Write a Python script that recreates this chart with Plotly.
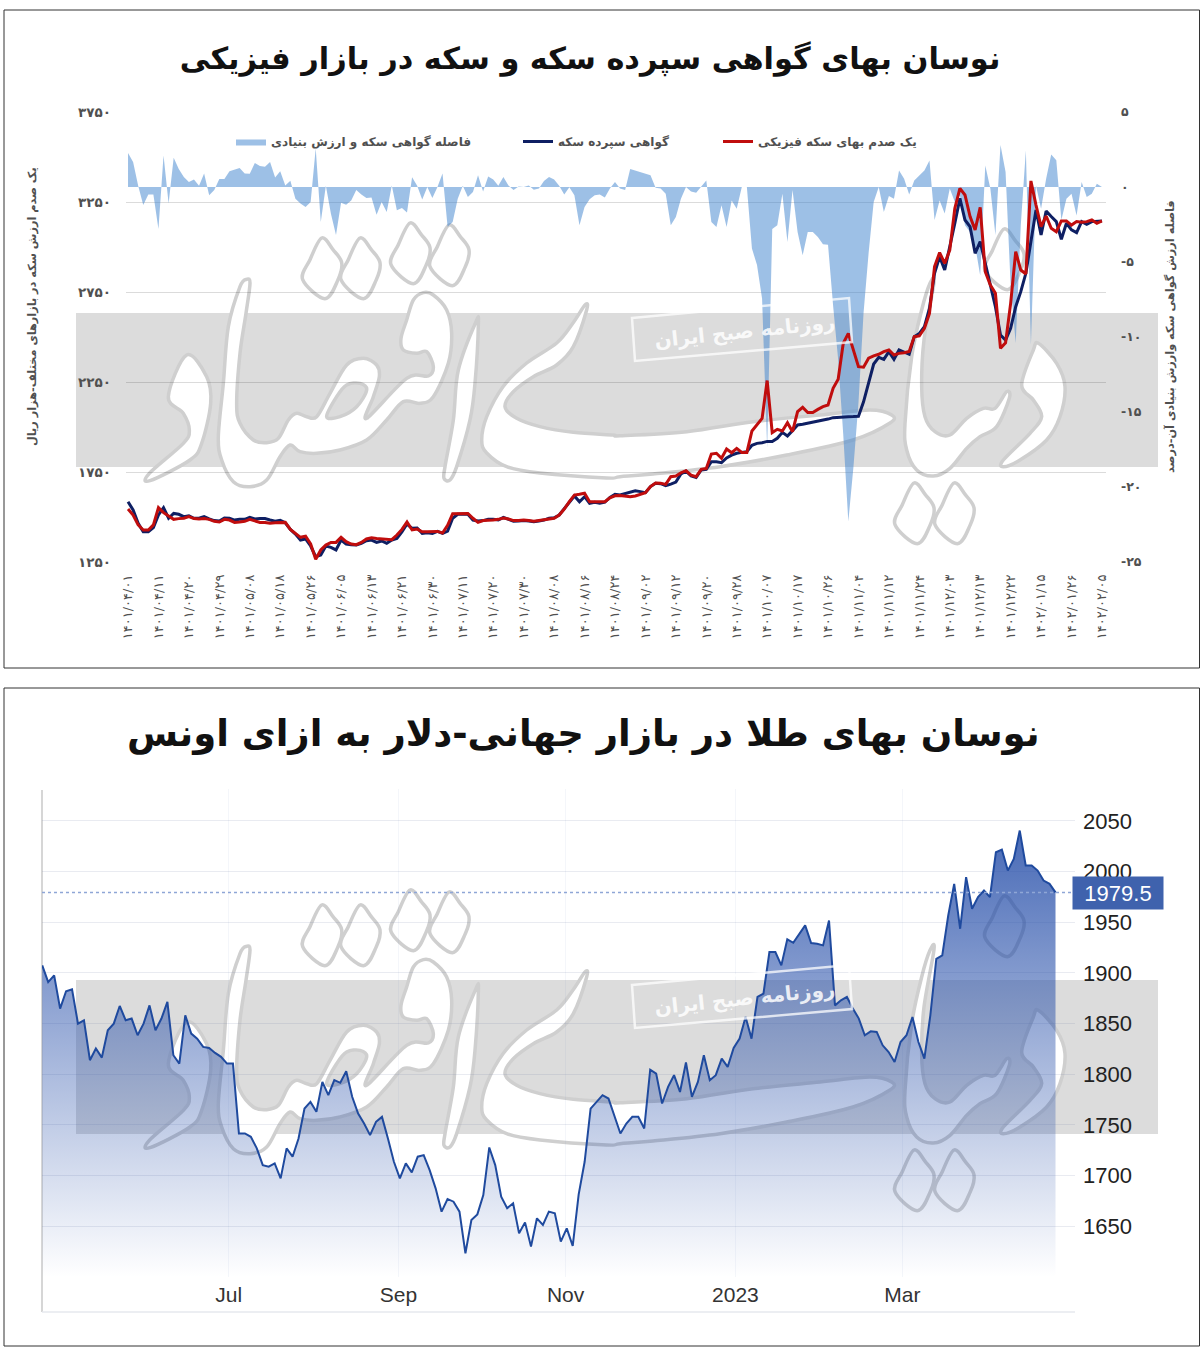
import pandas as pd
import plotly.graph_objects as go

W, H = 1200, 1352

TITLE_TOP = "نوسان بهای گواهی سپرده سکه و سکه در بازار فیزیکی"
TITLE_BOTTOM = "نوسان بهای طلا در بازار جهانی-دلار به ازای اونس"
NAME_GAP = "فاصله گواهی سکه و ارزش بنیادی"
NAME_CERT = "گواهی سپرده سکه"
NAME_COIN = "یک صدم بهای سکه فیزیکی"
TITLE_LEFT = "یک صدم ارزش سکه در بازارهای مختلف-هزار ریال"
TITLE_RIGHT = "فاصله ارزش گواهی سکه وارزش بنیادی آن-درصد"
WATERMARK_TEXT = "روزنامه صبح ایران"

date_labels = ["۱۴۰۱/۰۴/۰۱", "۱۴۰۱/۰۴/۱۱", "۱۴۰۱/۰۴/۲۰", "۱۴۰۱/۰۴/۲۹", "۱۴۰۱/۰۵/۰۸", "۱۴۰۱/۰۵/۱۸",
               "۱۴۰۱/۰۵/۲۶", "۱۴۰۱/۰۶/۰۵", "۱۴۰۱/۰۶/۱۳", "۱۴۰۱/۰۶/۲۱", "۱۴۰۱/۰۶/۳۰", "۱۴۰۱/۰۷/۱۱",
               "۱۴۰۱/۰۷/۲۰", "۱۴۰۱/۰۷/۳۰", "۱۴۰۱/۰۸/۰۸", "۱۴۰۱/۰۸/۱۶", "۱۴۰۱/۰۸/۲۴", "۱۴۰۱/۰۹/۰۲",
               "۱۴۰۱/۰۹/۱۲", "۱۴۰۱/۰۹/۲۰", "۱۴۰۱/۰۹/۲۸", "۱۴۰۱/۱۰/۰۷", "۱۴۰۱/۱۰/۱۷", "۱۴۰۱/۱۰/۲۶",
               "۱۴۰۱/۱۱/۰۴", "۱۴۰۱/۱۱/۱۲", "۱۴۰۱/۱۱/۲۴", "۱۴۰۱/۱۲/۰۳", "۱۴۰۱/۱۲/۱۳", "۱۴۰۱/۱۲/۲۲",
               "۱۴۰۲/۰۱/۱۵", "۱۴۰۲/۰۱/۲۶", "۱۴۰۲/۰۲/۰۵"]
date_ticks = [6 * k for k in range(33)]

price_ticks = [1250, 1750, 2250, 2750, 3250, 3750]
price_labels = ["۱۲۵۰", "۱۷۵۰", "۲۲۵۰", "۲۷۵۰", "۳۲۵۰", "۳۷۵۰"]
gap_ticks = [-25, -20, -15, -10, -5, 0, 5]
gap_labels = ["-۲۵", "-۲۰", "-۱۵", "-۱۰", "-۵", "۰", "۵"]

coin_price = [
    1544, 1511, 1456, 1428, 1428, 1456, 1552, 1524, 1506, 1487,
    1491, 1493, 1502, 1491, 1489, 1491, 1487, 1476, 1472, 1487,
    1483, 1470, 1472, 1476, 1487, 1478, 1470, 1470, 1465, 1468,
    1470, 1470, 1431, 1409, 1387, 1393, 1350, 1265, 1317, 1344,
    1359, 1359, 1387, 1363, 1350, 1346, 1359, 1378, 1385, 1381,
    1380, 1378, 1374, 1400, 1431, 1472, 1428, 1433, 1418, 1418,
    1418, 1420, 1411, 1454, 1518, 1520, 1520, 1520, 1493, 1470,
    1480, 1480, 1483, 1487, 1494, 1489, 1480, 1480, 1483, 1480,
    1476, 1480, 1483, 1489, 1493, 1511, 1544, 1585, 1622, 1626,
    1632, 1585, 1585, 1582, 1585, 1607, 1618, 1620, 1617, 1613,
    1617, 1628, 1635, 1669, 1689, 1687, 1681, 1724, 1728, 1746,
    1757, 1733, 1724, 1765, 1770, 1850, 1854, 1826, 1878, 1857,
    1881, 1859, 1859, 1978, 2011, 2048, 2258, 1969, 1987, 1978,
    2024, 1974, 2085, 2109, 2080, 2081, 2098, 2113, 2122, 2215,
    2265, 2465, 2520, 2428, 2335, 2332, 2382, 2395, 2404, 2419,
    2428, 2400, 2409, 2413, 2419, 2502, 2506, 2548, 2631, 2891,
    2969, 2909, 2983, 3215, 3326, 3289, 3169, 3095, 3220, 2863,
    2789, 2743, 2437, 2468, 2687, 2974, 2872, 2850, 3367, 3233,
    3113, 3172, 3104, 3085, 3145, 3145, 3122, 3141, 3137, 3141,
    3150, 3132, 3145,
]

certificate_price = [
    1585, 1539, 1465, 1418, 1418, 1441, 1511, 1552, 1493, 1520,
    1515, 1502, 1507, 1493, 1493, 1502, 1489, 1480, 1478, 1494,
    1493, 1483, 1487, 1487, 1498, 1489, 1491, 1491, 1483, 1476,
    1481, 1468, 1431, 1405, 1372, 1378, 1339, 1280, 1289, 1339,
    1331, 1317, 1372, 1350, 1346, 1344, 1354, 1368, 1372, 1359,
    1367, 1354, 1372, 1381, 1418, 1461, 1437, 1439, 1409, 1413,
    1409, 1420, 1409, 1422, 1493, 1515, 1515, 1515, 1483, 1478,
    1480, 1487, 1487, 1483, 1498, 1489, 1476, 1478, 1481, 1478,
    1474, 1478, 1483, 1493, 1496, 1511, 1548, 1585, 1617, 1585,
    1613, 1576, 1582, 1576, 1582, 1609, 1626, 1622, 1631, 1637,
    1646, 1641, 1635, 1669, 1687, 1685, 1674, 1683, 1694, 1739,
    1755, 1728, 1720, 1761, 1765, 1807, 1807, 1802, 1828, 1844,
    1854, 1859, 1863, 1898, 1909, 1913, 1920, 1919, 1937, 1970,
    1950, 1980, 2011, 2015, 2020, 2026, 2033, 2039, 2044, 2052,
    2055, 2057, 2057, 2058, 2060, 2140, 2250, 2350, 2387, 2376,
    2419, 2376, 2428, 2415, 2404, 2502, 2520, 2557, 2659, 2854,
    2946, 2872, 2993, 3132, 3270, 3150, 3113, 2965, 3030, 2909,
    2798, 2668, 2511, 2483, 2548, 2668, 2752, 2854, 3030, 3206,
    3067, 3200, 3169, 3141, 3043, 3132, 3095, 3080, 3141, 3126,
    3141, 3141, 3145,
]

gap_percent = [
    2.27, 1.67, 0.08, -1.2, -0.5, -0.5, -2.8, 2.1, -1.1, 1.95,
    1.2, 0.67, 0.33, 0.5, 0.08, 0.9, -0.55, -0.2, 0.53, 0.53,
    1.05, 1.15, 1.27, 0.9, 0.88, 1.6, 1.4, 1.35, 1.67, 0.63,
    1.05, 0.1, 0.42, -0.78, -1.1, -1.33, -1.0, 2.57, -2.33, 0.08,
    -1.78, -3.2, -1.05, -1.18, -0.9, -0.2, -0.5, -0.73, -0.7, -1.85,
    -1.0, -1.67, 0.1, -1.55, -1.4, -1.7, 0.65, 0.08, -0.83, 0.0,
    -0.73, 0.0, 0.9, -2.65, -2.33, -0.78, 0.08, -0.67, -0.33, 0.78,
    -0.3, 0.7, 0.5, 0.08, 0.67, 0.1, -0.2, 0.03, 0.0, 0.1,
    -0.18, -0.1, 0.4, 0.67, 0.5, 0.08, -0.5, -0.02, -0.55, -2.55,
    -1.33, -0.82, -0.55, -0.5, -0.7, -0.1, 0.33, -0.1, -0.2, 1.2,
    1.1, 1.0, 0.9, 0.78, -0.05, -0.1, -0.45, -2.55, -2.0, -0.78,
    0.0, -0.3, -0.38, 0.0, 0.44, -2.33, -2.67, -1.22, -2.67, -0.9,
    -1.45, 0.0, 0.0, -4.1, -5.2, -7.45, -17.4, -2.8, -2.55, -0.45,
    -3.67, -0.2, -3.0, -4.55, -3.0, -3.0, -3.33, -3.82, -3.85, -7.9,
    -11.5, -16.5, -22.3, -18.7, -14.4, -8.4, -4.4, -1.0, 0.0, -1.67,
    -0.6, -0.78, 1.1, 0.55, -0.5, 0.44, 0.78, 1.1, 1.77, -2.2,
    -0.9, -1.77, -0.1, -1.0, -0.55, -2.55, -3.0, -3.9, -5.9, 1.44,
    -0.1, -3.2, 2.8, 1.0, -6.55, -10.4, -2.55, 2.44, -10.5, 0.1,
    -1.45, 0.55, 2.17, 1.78, -2.2, -0.78, -0.45, -1.9, 0.33, -0.67,
    -0.45, 0.22, 0.0,
]

gold_price = [
    1907.5, 1891, 1897.6, 1864.8, 1881.9, 1883.8, 1850, 1853.3, 1813.9, 1825.4,
    1816.5, 1843.4, 1850, 1867.4, 1853.3, 1855, 1838.5, 1850, 1868, 1843.4,
    1855, 1871.4, 1818.8, 1810.6, 1858.2, 1840.2, 1835.2, 1827, 1826, 1821.1,
    1817.2, 1810.6, 1810.6, 1741.6, 1741.6, 1738.3, 1726.9, 1710.4, 1708.8, 1712.1,
    1697.3, 1726.9, 1718.7, 1736.7, 1766.3, 1772.8, 1763, 1792.5, 1779.4, 1794.2,
    1791.6, 1803, 1777.8, 1761.3, 1751.5, 1740, 1753.1, 1758, 1736.7, 1713.7,
    1697.3, 1712.1, 1703.2, 1718.7, 1720.3, 1705.5, 1687.5, 1664.5, 1677, 1674.3,
    1664.5, 1623.4, 1656.2, 1661.8, 1680.9, 1727.8, 1710.4, 1679.2, 1667.8, 1672.7,
    1643.1, 1653.9, 1630, 1657.9, 1651.3, 1664.5, 1662.8, 1634.9, 1648, 1630.6,
    1681.5, 1713.7, 1766.2, 1772.8, 1779.4, 1776.1, 1759.7, 1741.6, 1751.4, 1758,
    1758, 1746.5, 1804.6, 1800.7, 1771.2, 1787.6, 1799.1, 1782.6, 1811.6, 1777.7,
    1792.5, 1818.8, 1794.2, 1799.1, 1815.5, 1807.3, 1826, 1835.2, 1856.6, 1835.2,
    1876.3, 1879.5, 1920.6, 1920.6, 1907.5, 1933.1, 1929.8, 1938.6, 1946.9, 1929.5,
    1928.8, 1927.2, 1951.8, 1868, 1873, 1876.3, 1864.8, 1855, 1838.5, 1842.4,
    1841.8, 1828.6, 1822, 1812.2, 1831.9, 1838.5, 1856.6, 1831.9, 1815.5, 1858.2,
    1914, 1917.3, 1956.7, 1987.9, 1943.6, 1994.5, 1963.3, 1974.8, 1981.3, 1974.8,
    2019.1, 2021.7, 2001, 2012.5, 2040.5, 2006, 2006, 2001, 1991.2, 1987.9,
    1979.5,
]
gold_dates = pd.date_range("2022-04-25", "2023-04-24", periods=len(gold_price))
gold_ticks = [1600, 1650, 1700, 1750, 1800, 1850, 1900, 1950, 2000, 2050]
gold_tick_labels = ["", "1650", "1700", "1750", "1800", "1850", "1900", "1950", "2000", "2050"]
gold_month_ticks = ["2022-07-01", "2022-08-31", "2022-10-30", "2022-12-30", "2023-02-28"]
gold_month_labels = ["Jul", "Sep", "Nov", "2023", "Mar"]
GOLD_LAST = 1979.5

FONT = "DejaVu Sans"
GREY = "#505050"


def px(x):
    return x / W


def py(y):
    return 1 - y / H


def smooth(points, dy=0):
    """Closed Catmull-Rom outline through pixel points, as an SVG path in paper units."""
    n = len(points)
    pts = [(p[0], p[1] + dy) for p in points]
    d = f"M{px(pts[0][0]):.5f},{py(pts[0][1]):.5f}"
    for i in range(n):
        p0, p1, p2, p3 = pts[i - 1], pts[i], pts[(i + 1) % n], pts[(i + 2) % n]
        c1 = (p1[0] + (p2[0] - p0[0]) / 6, p1[1] + (p2[1] - p0[1]) / 6)
        c2 = (p2[0] - (p3[0] - p1[0]) / 6, p2[1] - (p3[1] - p1[1]) / 6)
        d += (f" C{px(c1[0]):.5f},{py(c1[1]):.5f} {px(c2[0]):.5f},{py(c2[1]):.5f}"
              f" {px(p2[0]):.5f},{py(p2[1]):.5f}")
    return d + " Z"


def z7(points):
    return [(140 + a / 3, 270 + b / 3) for a, b in points]


def z8(points):
    return [(620 + a / 3, 290 + b / 3) for a, b in points]


DAL = z7([(140, 255), (200, 320), (212, 400), (185, 520), (150, 570), (30, 632), (28, 610), (130, 520),
          (148, 480), (130, 430), (85, 380)])
SAD = z7([(320, 28), (330, 40), (318, 130), (300, 250), (290, 400), (300, 460), (340, 510), (380, 518),
          (415, 505), (445, 450), (470, 430), (500, 440), (530, 440), (570, 370), (620, 285), (670, 265),
          (710, 285), (718, 320), (700, 380), (680, 445), (800, 325), (865, 318), (880, 290), (860, 245),
          (830, 250), (790, 240), (783, 205), (800, 150), (820, 90), (850, 68), (880, 75), (920, 120),
          (935, 190), (925, 280), (880, 380), (840, 400), (790, 395), (740, 450), (680, 510), (600, 540),
          (530, 550), (480, 545), (450, 525), (420, 560), (380, 630), (330, 650), (280, 635), (245, 570),
          (235, 500), (250, 340), (265, 170), (300, 50)])
SAD_HOLE = z7([(560, 440), (600, 440), (650, 410), (680, 360), (660, 340), (620, 345), (590, 380)])
ALEF = z7([(1008, 155), (1015, 165), (1005, 340), (990, 450), (950, 590), (930, 630), (912, 625), (915, 590),
           (940, 450), (955, 300)])
YE = z7([(1335, 105), (1340, 120), (1300, 230), (1250, 285), (1180, 320), (1120, 365), (1095, 410), (1130, 445),
          (1200, 470), (1300, 487), (1420, 495)]) + \
    [(620, 435.7), (686.7, 431.7), (753, 421.7), (820, 415), (870, 410), (891.7, 415), (890, 423), (853, 440),
     (786.7, 455), (720, 466.7), (653, 474), (620, 476.7), (606.7, 478), (540, 473), (506.7, 466.7), (486.7, 453),
     (481.7, 440), (486.7, 416.7), (503, 386.7), (526.7, 363), (556.7, 343), (573, 323)]
DAL2 = z8([(1255, 160), (1310, 220), (1335, 290), (1320, 380), (1280, 450), (1200, 510), (1150, 530), (1150, 510),
           (1230, 430), (1265, 380), (1240, 330), (1205, 285), (1240, 180)])
NUN = z8([(1160, 305), (1168, 325), (1130, 410), (1080, 440), (1040, 475), (990, 535), (940, 558), (890, 540),
          (860, 480), (855, 400), (875, 200), (905, 60), (930, -20), (942, -22), (912, 150), (905, 290),
          (915, 380), (945, 425), (990, 435), (1040, 385), (1090, 355), (1125, 355)])
DOT = [(19, 0), (30.3, 11.7), (39, 24.7), (35.3, 41.7), (22.3, 60.7), (0, 41.7), (7.3, 21.7)]
DOT_ORIGINS = [(302.7, 238), (341, 238), (391, 223), (430, 225), (895, 483), (935, 483), (985, 229)]

shapes = []
annotations = []

for dy in (0, 667):
    shapes.append(dict(type="rect", xref="paper", yref="paper", layer="below", x0=px(76), x1=px(1158),
                       y0=py(313 + dy), y1=py(467 + dy), fillcolor="#dcdcdc", line_width=0))
    glyph_line = dict(color="#cfcfcf", width=3.5)
    for outline in (DAL, ALEF, YE, DAL2, NUN):
        shapes.append(dict(type="path", xref="paper", yref="paper", layer="below", path=smooth(outline, dy),
                           fillcolor="#ffffff", line=glyph_line))
    shapes.append(dict(type="path", xref="paper", yref="paper", layer="below",
                       path=smooth(SAD, dy) + " " + smooth(SAD_HOLE, dy),
                       fillcolor="#ffffff", line=glyph_line))
    for ox, oy in DOT_ORIGINS:
        shapes.append(dict(type="path", xref="paper", yref="paper", layer="below",
                           path=smooth([(ox + a, oy + b) for a, b in DOT], dy),
                           fillcolor="#ffffff", line=glyph_line))
    box = [(632, 318), (849, 298), (852, 342), (635, 361)]
    d = "M" + " L".join(f"{px(a):.5f},{py(b + dy):.5f}" for a, b in box) + " Z"
    shapes.append(dict(type="path", xref="paper", yref="paper", layer="above", path=d,
                       fillcolor="rgba(255,255,255,0)", line=dict(color="rgba(255,255,255,0.75)", width=2.5)))
    annotations.append(dict(text=WATERMARK_TEXT, xref="paper", yref="paper", x=px(745), y=py(331 + dy),
                            xanchor="center", yanchor="middle", showarrow=False, textangle=-6,
                            font=dict(family=FONT, size=20, color="rgba(255,255,255,0.85)", weight="bold")))

# panel frames
for top, bottom in ((10, 668), (688, 1346)):
    shapes.append(dict(type="rect", xref="paper", yref="paper", layer="above", x0=px(4), x1=px(1199.5),
                       y0=py(bottom), y1=py(top), line=dict(color="#333333", width=1), fillcolor="rgba(0,0,0,0)"))

# gold chart frame lines and last-price line
shapes.append(dict(type="line", xref="paper", yref="paper", layer="below", x0=px(42), x1=px(42), y0=py(790), y1=py(1312),
                   line=dict(color="#c8c8c8", width=1.5)))
shapes.append(dict(type="line", xref="paper", yref="paper", layer="below", x0=px(42), x1=px(1075), y0=py(1312), y1=py(1312),
                   line=dict(color="#e6e8ee", width=1.5)))
shapes.append(dict(type="line", xref="x3 domain", yref="y3", layer="above", x0=0, x1=1, y0=GOLD_LAST, y1=GOLD_LAST,
                   line=dict(color="#8fa6d6", width=1.5, dash="dot")))

annotations += [
    dict(text=TITLE_LEFT, xref="paper", yref="paper", x=px(32), y=py(307), textangle=-90, showarrow=False,
         xanchor="center", yanchor="middle", font=dict(family=FONT, size=11.3, color=GREY, weight="bold")),
    dict(text=TITLE_RIGHT, xref="paper", yref="paper", x=px(1170), y=py(337), textangle=-90, showarrow=False,
         xanchor="center", yanchor="middle", font=dict(family=FONT, size=11.3, color=GREY, weight="bold")),
    dict(text=TITLE_BOTTOM, xref="paper", yref="paper", x=px(583), y=py(733), showarrow=False,
         xanchor="center", yanchor="middle", font=dict(family=FONT, size=37, color="#111111", weight="bold")),
    dict(text=f"{GOLD_LAST}", xref="paper", yref="y3", x=px(1117.5), y=GOLD_LAST, yshift=-1, showarrow=False,
         xanchor="center", yanchor="middle", width=88, height=30, bgcolor="#3f62ad",
         font=dict(family="Liberation Sans", size=22, color="#ffffff")),
]

fig = go.Figure()
idx = list(range(len(coin_price)))
fig.add_trace(go.Scatter(x=idx, y=gap_percent, name=NAME_GAP, mode="lines", fill="tozeroy",
                         line=dict(color="rgba(60,130,205,0)", width=0),
                         fillcolor="rgba(60,130,205,0.5)", xaxis="x", yaxis="y", legend="legend"))
fig.add_trace(go.Scatter(x=idx, y=certificate_price, name=NAME_CERT, mode="lines",
                         line=dict(color="#0e1f63", width=3), xaxis="x", yaxis="y2", legend="legend2"))
fig.add_trace(go.Scatter(x=idx, y=coin_price, name=NAME_COIN, mode="lines",
                         line=dict(color="#c00d0d", width=3), xaxis="x", yaxis="y2", legend="legend3"))
fig.add_trace(go.Scatter(x=gold_dates, y=gold_price, name="Gold", mode="lines", fill="tozeroy",
                         line=dict(color="#1f4a9e", width=2),
                         fillgradient=dict(type="vertical", start=2040, stop=1600,
                                           colorscale=[[0, "rgba(40,80,170,0.85)"], [1, "rgba(40,80,170,0)"]]),
                         xaxis="x3", yaxis="y3", showlegend=False))

GRID = "rgba(0,0,0,0.14)"
tick_bold = dict(family=FONT, size=13.5, color=GREY, weight="bold")


def legend_at(x):
    return dict(x=px(x), y=py(127), xanchor="left", yanchor="top", orientation="h", bgcolor="rgba(0,0,0,0)",
                itemwidth=30, font=dict(family=FONT, size=12, color=GREY, weight="bold"), itemclick=False,
                tracegroupgap=0)


fig.update_layout(
    width=W, height=H, margin=dict(l=0, r=0, t=0, b=0, autoexpand=False), autosize=False,
    paper_bgcolor="#ffffff", plot_bgcolor="rgba(0,0,0,0)",
    font=dict(family=FONT),
    title=dict(text=TITLE_TOP, x=px(590), y=py(58), xref="paper", yref="paper", xanchor="center", yanchor="middle",
               font=dict(family=FONT, size=30.4, color="#111111", weight="bold")),
    shapes=shapes, annotations=annotations,
    legend=legend_at(231), legend2=legend_at(518), legend3=legend_at(718),
    xaxis=dict(domain=[px(126), px(1106)], range=[-0.4, 192.8], anchor="y", tickmode="array",
               tickvals=date_ticks, ticktext=date_labels, tickangle=-90, showgrid=False, zeroline=False,
               ticks="", ticklabelstandoff=9, tickfont=dict(family=FONT, size=13, color=GREY)),
    yaxis=dict(domain=[py(562), py(112)], range=[-25, 5], side="right", anchor="x", tickmode="array",
               tickvals=gap_ticks, ticktext=gap_labels, showgrid=False, zeroline=False, ticks="",
               ticklabelstandoff=14, tickfont=dict(family=FONT, size=12.5, color=GREY, weight="bold")),
    yaxis2=dict(range=[1250, 3750], overlaying="y", side="left", anchor="x", tickmode="array",
                tickvals=price_ticks, ticktext=price_labels, showgrid=True, gridcolor=GRID, gridwidth=1,
                zeroline=False, ticks="", ticklabelstandoff=14, tickfont=tick_bold),
    xaxis3=dict(domain=[px(42), px(1075)], range=["2022-04-24 22:00", "2023-05-01"], anchor="y3", type="date",
                tickmode="array", tickvals=gold_month_ticks, ticktext=gold_month_labels, showgrid=True,
                gridcolor="rgba(120,140,190,0.08)", zeroline=False, ticks="", tickangle=0, ticklabelstandoff=3,
                tickfont=dict(family="Liberation Sans", size=21, color="#333333")),
    yaxis3=dict(domain=[py(1277), py(789)], range=[1600, 2081.5], side="right", anchor="x3", tickmode="array",
                tickvals=gold_ticks, ticktext=gold_tick_labels, showgrid=True,
                gridcolor="rgba(120,130,170,0.16)", zeroline=False, ticks="", ticklabelstandoff=7,
                tickfont=dict(family="Liberation Sans", size=22, color="#222222")),
)

fig.write_html("out.html", config={"displayModeBar": False},
               post_script="document.body.style.margin='0';document.documentElement.style.overflow='hidden';")
